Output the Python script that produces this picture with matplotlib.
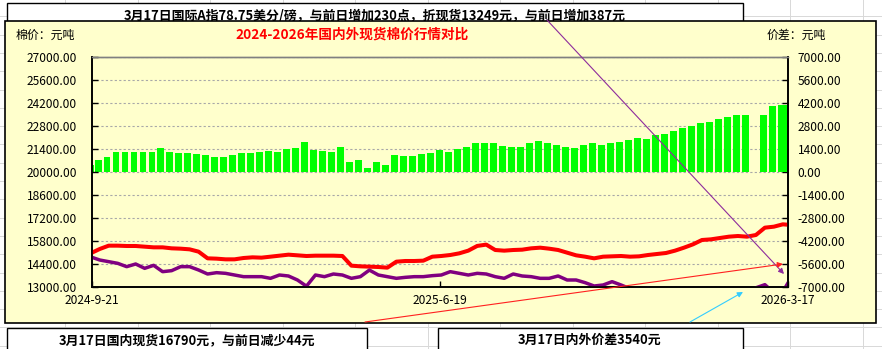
import matplotlib
matplotlib.use("Agg")
import matplotlib.pyplot as plt
import matplotlib.dates as mdates
import numpy as np
import pandas as pd
from matplotlib.patches import Rectangle, FancyArrowPatch
from matplotlib.lines import Line2D

plt.rcParams['font.family'] = ['Noto Sans CJK SC', 'DejaVu Sans']

W, H = 882, 349

# weekly samples (Fridays), plus the first and last day of the range
dates = ([pd.Timestamp('2024-09-21')]
         + list(pd.date_range('2024-09-27', '2026-03-13', freq='W-FRI'))
         + [pd.Timestamp('2026-03-17')])

# domestic spot price (red, left axis)
domestic = [15090,
    15313, 15516, 15516, 15496, 15496, 15455, 15414, 15414, 15354, 15333,
    15293, 15151, 14745, 14725, 14684, 14684, 14765, 14806, 14786, 14846,
    14907, 14968, 14928, 14887, 14907, 14907, 14907, 14887, 14299, 14258,
    14238, 14217, 14177, 14542, 14583, 14583, 14603, 14846, 14887, 14948,
    15049, 15212, 15500, 15580, 15252, 15212, 15252, 15272, 15354, 15394,
    15333, 15252, 15090, 14928, 14846, 14745, 14846, 14867, 14887, 14846,
    14867, 14948, 15009, 15070, 15212, 15394, 15597, 15861, 15901, 15983,
    16064, 16104, 16064, 16165, 16612, 16672, 16815,
    16790]

# international index converted to spot (purple, left axis)
intl = [14806,
    14643, 14542, 14441, 14238, 14400, 14136, 14319, 13933, 13994, 14238,
    14238, 14035, 13791, 13872, 13832, 13730, 13629, 13629, 13629, 13528,
    13730, 13670, 13426, 13050, 13730, 13629, 13791, 13730, 13528, 13629,
    14030, 13730, 13629, 13528, 13588, 13629, 13629, 13690, 13730, 13933,
    13832, 13730, 13832, 13791, 13629, 13528, 13791, 13670, 13629, 13528,
    13528, 13670, 13426, 13426, 13264, 13061, 13122, 13325, 13122, 12898,
    12818, 12939, 12757, 12757, 12696, 12736, 12797, 12858, 12837, 12777,
    12696, 12634, 12594, 12950, 13142, 12655, 12716,
    13249]

# domestic - international spread (green bars, right axis)
spread = [400,
    730, 933, 1238, 1238, 1238, 1238, 1197, 1441, 1238, 1136,
    1136, 1096, 1035, 893, 933, 1035, 1177, 1177, 1238, 1299,
    1238, 1380, 1441, 1846, 1339, 1299, 1238, 1542, 629, 730,
    223, 629, 426, 1035, 974, 974, 1096, 1177, 1339, 1238,
    1380, 1542, 1745, 1786, 1745, 1583, 1542, 1501, 1745, 1907,
    1745, 1643, 1542, 1481, 1643, 1745, 1643, 1745, 1846, 1948,
    2049, 2009, 2252, 2313, 2516, 2658, 2800, 3003, 3064, 3206,
    3368, 3470, 3470, np.nan, 3470, 4017, 4099,
    4060]

date_ticks = ['2024-9-21', '2025-6-19', '2026-3-17']

title = '2024-2026年国内外现货棉价行情对比'
left_unit = '棉价：元吨'
right_unit = '价差：元吨'
top_note = '3月17日国际A指78.75美分/磅，与前日增加230点，折现货13249元，与前日增加387元'
bottom_note_l = '3月17日国内现货16790元，与前日减少44元'
bottom_note_r = '3月17日内外价差3540元'


def fx(px):
    return px / W


def fy(py):
    return 1 - py / H


fig = plt.figure(figsize=(W / 100, H / 100), dpi=100)
fig.patch.set_facecolor('white')

# spreadsheet cell grid in the background
for gy in np.arange(-2, H + 10, 18.3):
    fig.add_artist(Line2D([0, 1], [fy(gy), fy(gy)], transform=fig.transFigure,
                          color='#d8d8d8', lw=0.7, zorder=0))
for gx in np.arange(65, W + 10, 72.5):
    fig.add_artist(Line2D([fx(gx), fx(gx)], [0, 1], transform=fig.transFigure,
                          color='#d8d8d8', lw=0.7, zorder=0))

# text boxes
def note_box(x0, y0, x1, y1, z=0.4):
    fig.add_artist(Rectangle((fx(x0), fy(y1)), fx(x1) - fx(x0), fy(y0) - fy(y1),
                             transform=fig.transFigure, facecolor='white',
                             edgecolor='black', lw=1.0, zorder=z))

note_box(7, 3, 743, 40)
fig.text(fx(375), fy(16), top_note, ha='center', va='center',
         fontsize=9.3, fontweight='bold', zorder=0.5)
note_box(7, 327.5, 367, 360)
fig.text(fx(187), fy(340), bottom_note_l, ha='center', va='center',
         fontsize=9.3, fontweight='bold', zorder=0.5)
note_box(438, 327.5, 743, 360)
fig.text(fx(590), fy(340), bottom_note_r, ha='center', va='center',
         fontsize=9.3, fontweight='bold', zorder=0.5)

# chart frame
fig.add_artist(Rectangle((fx(4.5), fy(323)), fx(875.5) - fx(4.5), fy(20.5) - fy(323),
                         transform=fig.transFigure, facecolor='#ffffcc',
                         edgecolor='black', lw=1.2, zorder=1))

fig.text(fx(352), fy(35), title, ha='center', va='center', color='red',
         fontsize=9.8, fontweight='bold', zorder=5)
fig.text(fx(16), fy(35), left_unit, ha='left', va='center', fontsize=8.6, zorder=5)
fig.text(fx(767), fy(35), right_unit, ha='left', va='center', fontsize=8.6, zorder=5)

# plot area
ax2 = fig.add_axes([fx(92), fy(287), fx(788) - fx(92), fy(57) - fy(287)])
ax = ax2.twinx()
ax2.set_zorder(2)
ax.set_zorder(3)
ax2.patch.set_visible(False)
ax.patch.set_visible(False)

x = mdates.date2num(dates)

ax2.bar(x - 4, spread, width=5.4, align='edge', color='#00ff00', linewidth=0)
ax2.set_ylim(-7000, 7000)
ax2.set_yticks(np.arange(-7000, 7001, 1400))
ax2.yaxis.set_major_formatter(plt.FuncFormatter(lambda v, p: f'{v:.2f}'))
ax2.yaxis.tick_right()
ax2.grid(axis='y', color='#a8a8a8', linestyle=(0, (2, 2)), lw=0.8)
ax2.set_axisbelow(True)

ax.plot(x, domestic, color='#ff0000', lw=2.9, solid_joinstyle='round')
ax.plot(x, intl, color='#800080', lw=2.5, solid_joinstyle='round')
ax.set_ylim(13000, 27000)
ax.set_yticks(np.arange(13000, 27001, 1400))
ax.yaxis.set_major_formatter(plt.FuncFormatter(lambda v, p: f'{v:.2f}'))
ax.yaxis.tick_left()

xmin = mdates.date2num(pd.Timestamp('2024-09-21'))
xmax = mdates.date2num(pd.Timestamp('2026-03-17'))
ax2.set_xlim(xmin, xmax)
ax2.set_xticks(mdates.date2num(pd.to_datetime(date_ticks)))
ax2.set_xticklabels(date_ticks)

ax2.tick_params(axis='x', direction='in', length=4, width=1, pad=5, labelsize=8.6)
ax2.tick_params(axis='y', direction='in', length=4, width=1, pad=7, labelsize=8.6,
                right=True, left=False, labelright=True, labelleft=False)
ax.tick_params(axis='y', direction='in', length=4, width=1, pad=11, labelsize=8.6,
               left=True, right=False, labelleft=True, labelright=False)
ax.tick_params(axis='x', bottom=False, labelbottom=False)

for a in (ax, ax2):
    for s in ('left', 'right', 'bottom'):
        a.spines[s].set_color('black')
        a.spines[s].set_linewidth(1.2)
    a.spines['top'].set_color('#808080')
    a.spines['top'].set_linewidth(1.0)

# pointer lines
def pointer(p0, p1, color):
    fig.add_artist(FancyArrowPatch((fx(p0[0]), fy(p0[1])), (fx(p1[0]), fy(p1[1])),
                                   transform=fig.transFigure, arrowstyle='-|>',
                                   mutation_scale=8, color=color, lw=0.8,
                                   shrinkA=0, shrinkB=0, zorder=6))

pointer((547, 20), (784, 274), '#8e2c9c')
pointer((365, 322), (783, 264), '#ff2020')
pointer((690, 322), (743, 292), '#33ccff')

fig.savefig('out.png', dpi=100)
